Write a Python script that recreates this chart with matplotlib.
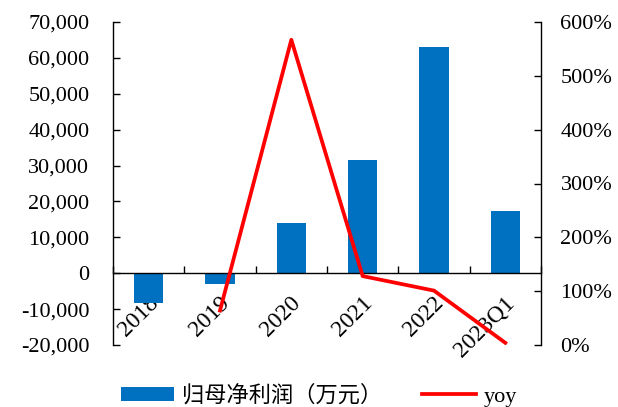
import matplotlib
matplotlib.use("Agg")
import matplotlib.pyplot as plt
from matplotlib.patches import Patch
from matplotlib.lines import Line2D
from matplotlib.ticker import FuncFormatter, FixedLocator
import matplotlib.transforms as mtransforms

plt.rcParams['font.family'] = ['Liberation Serif', 'Noto Sans CJK SC']

categories = ["2018", "2019", "2020", "2021", "2022", "2023Q1"]
net_profit = [-8200, -3000, 13900, 31500, 63000, 17300]   # 万元
yoy = [None, 0.64, 5.67, 1.28, 1.01, 0.04]

bar_color = "#0070C0"
line_color = "#FF0000"

fig = plt.figure(figsize=(6.18, 4.07), dpi=100)
ax = fig.add_axes([113 / 618, 1 - 345 / 407, (541 - 113) / 618, (345 - 22) / 407])

x = list(range(len(categories)))
ax.bar(x, net_profit, width=0.41, color=bar_color, zorder=2)
ax.set_xlim(-0.5, len(categories) - 0.5)
ax.set_ylim(-20000, 70000)
ax.set_yticks(range(-20000, 70001, 10000))
ax.yaxis.set_major_formatter(FuncFormatter(lambda v, p: f"{int(v):,}"))
ax.tick_params(axis='y', direction='in', length=5, width=1, labelsize=16, pad=17)

# category axis drawn along the zero line
ax.spines['bottom'].set_position(('data', 0))
ax.spines['top'].set_visible(False)
ax.spines['right'].set_visible(False)
ax.spines['left'].set_linewidth(1)
ax.spines['bottom'].set_linewidth(1)
ax.spines['bottom'].set_zorder(3)
ax.xaxis.set_major_locator(FixedLocator([i + 0.5 for i in range(-1, len(categories))]))
ax.xaxis.set_major_formatter(FuncFormatter(lambda v, p: ""))
ax.set_xticks(x, minor=True)
ax.set_xticklabels(categories, minor=True, rotation=45, ha='right', va='top',
                   rotation_mode='anchor', fontsize=17)
ax.tick_params(axis='x', which='major', direction='in', length=5, width=1)
ax.tick_params(axis='x', which='minor', length=0, pad=14)
offset = mtransforms.ScaledTranslation(-1 / 100, 0, fig.dpi_scale_trans)
for lbl in ax.xaxis.get_minorticklabels():
    lbl.set_transform(lbl.get_transform() + offset)

ax2 = ax.twinx()
ax2.set_position(ax.get_position())
yx = [i for i, v in zip(x, yoy) if v is not None]
yv = [v for v in yoy if v is not None]
ax2.plot(yx, yv, color=line_color, linewidth=2.7, zorder=4)
ax2.set_ylim(0, 6)
ax2.set_yticks([i for i in range(7)])
ax2.yaxis.set_major_formatter(FuncFormatter(lambda v, p: f"{int(round(v * 100))}%"))
ax2.tick_params(axis='y', direction='in', length=5, width=1, labelsize=16, pad=14)
for s in ['top', 'bottom', 'left']:
    ax2.spines[s].set_visible(False)
ax2.spines['right'].set_linewidth(1)

handles = [Patch(facecolor=bar_color, edgecolor='none'),
           Line2D([0], [0], color=line_color, linewidth=2.7)]
fig.legend(handles, ["归母净利润（万元）", "yoy"], loc='center',
           bbox_to_anchor=(319 / 618, 1 - 396 / 407), ncol=2, frameon=False,
           fontsize=16, handlelength=2.4, handleheight=0.6, columnspacing=1.8,
           handletextpad=0.35)

fig.savefig("out.png", dpi=100)
